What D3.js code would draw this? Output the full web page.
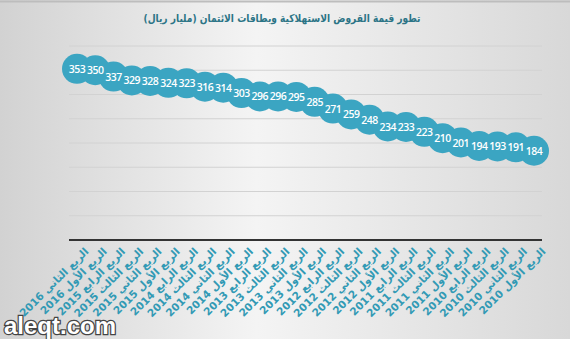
<!DOCTYPE html>
<html>
<head>
<meta charset="utf-8">
<script src="https://cdn.jsdelivr.net/npm/d3@7"></script>
<style>
  html, body { margin: 0; padding: 0; }
  svg { display: block; }
</style>
</head>
<body>
<div id="chart"></div>
<script>
// quarters, newest first (as in the original)
var quarters = [
  "الربع الثاني 2016", "الربع الأول 2016",
  "الربع الرابع 2015", "الربع الثالث 2015", "الربع الثاني 2015", "الربع الأول 2015",
  "الربع الرابع 2014", "الربع الثالث 2014", "الربع الثاني 2014", "الربع الأول 2014",
  "الربع الرابع 2013", "الربع الثالث 2013", "الربع الثاني 2013", "الربع الأول 2013",
  "الربع الرابع 2012", "الربع الثالث 2012", "الربع الثاني 2012", "الربع الأول 2012",
  "الربع الرابع 2011", "الربع الثالث 2011", "الربع الثاني 2011", "الربع الأول 2011",
  "الربع الرابع 2010", "الربع الثالث 2010", "الربع الثاني 2010", "الربع الأول 2010"
];
var loans = [353, 350, 337, 329, 328, 324, 323, 316, 314, 303, 296, 296, 295,
             285, 271, 259, 248, 234, 233, 223, 210, 201, 194, 193, 191, 184];
var gridTicks = [0, 50, 100, 150, 200, 250, 300, 350, 400];
var title = "تطور قيمة القروض الاستهلاكية وبطاقات الائتمان (مليار ريال)";

var W = 570, H = 339;
var teal = "#3ba5c2";

var svg = d3.select("#chart").append("svg")
    .attr("width", W).attr("height", H);

var defs = svg.append("defs");
var bg = defs.append("linearGradient").attr("id", "bg");
bg.append("stop").attr("offset", "0%").attr("stop-color", "#d2d2d2");
bg.append("stop").attr("offset", "45%").attr("stop-color", "#f4f4f4");
bg.append("stop").attr("offset", "100%").attr("stop-color", "#d8d8d8");

svg.append("rect").attr("width", W).attr("height", H).attr("fill", "url(#bg)");
svg.append("line").attr("x1", 0).attr("x2", W).attr("y1", 1.5).attr("y2", 1.5)
    .attr("stroke", "#bdbdbd").attr("stroke-width", 2);

var x = d3.scalePoint().domain(quarters).range([77, 534]);
var y = d3.scaleLinear().domain([0, 400]).range([240, 46]);

// grid
svg.append("g").selectAll("line")
    .data(gridTicks.filter(function(d) { return d > 0; }))
    .enter().append("line")
    .attr("x1", 69).attr("x2", 542)
    .attr("y1", function(d) { return y(d); })
    .attr("y2", function(d) { return y(d); })
    .attr("stroke", "#d2d2d2").attr("stroke-width", 1);

svg.append("line")
    .attr("x1", 69).attr("x2", 542)
    .attr("y1", y(0)).attr("y2", y(0))
    .attr("stroke", "#333").attr("stroke-width", 2);

// title
svg.append("text")
    .attr("x", 282).attr("y", 22)
    .attr("text-anchor", "middle")
    .attr("font-family", "DejaVu Sans")
    .attr("font-weight", "bold")
    .attr("font-size", 11)
    .attr("textLength", 277)
    .attr("lengthAdjust", "spacingAndGlyphs")
    .attr("fill", "#2b7486")
    .text(title);

// bubbles
var pts = svg.append("g");
pts.selectAll("circle")
    .data(loans)
    .enter().append("circle")
    .attr("cx", function(d, i) { return x(quarters[i]); })
    .attr("cy", function(d) { return y(d); })
    .attr("r", 15)
    .attr("fill", teal);

pts.selectAll("text")
    .data(loans)
    .enter().append("text")
    .attr("x", function(d, i) { return x(quarters[i]); })
    .attr("y", function(d) { return y(d) + 4; })
    .attr("text-anchor", "middle")
    .attr("font-family", "Open Sans")
    .attr("font-weight", 600)
    .attr("font-size", 10.5)
    .attr("letter-spacing", -0.5)
    .attr("fill", "#fff")
    .text(function(d) { return d; });

// x labels
svg.append("g").selectAll("text")
    .data(quarters)
    .enter().append("text")
    .attr("transform", function(d) { return "translate(" + (x(d) + 7) + ",247) rotate(-45)"; })
    .attr("text-anchor", "end")
    .attr("dy", "0.7em")
    .attr("font-family", "DejaVu Sans")
    .attr("font-weight", "bold")
    .attr("font-size", 10.5)
    .attr("fill", "#329ab5")
    .text(function(d) { return d; });

// watermark
svg.append("text")
    .attr("x", 4).attr("y", 334)
    .attr("font-family", "Liberation Sans")
    .attr("font-weight", "bold")
    .attr("font-size", 24)
    .attr("fill", "#fff")
    .attr("stroke", "#444")
    .attr("stroke-width", 2.5)
    .attr("paint-order", "stroke")
    .text("aleqt.com");
</script>
</body>
</html>
